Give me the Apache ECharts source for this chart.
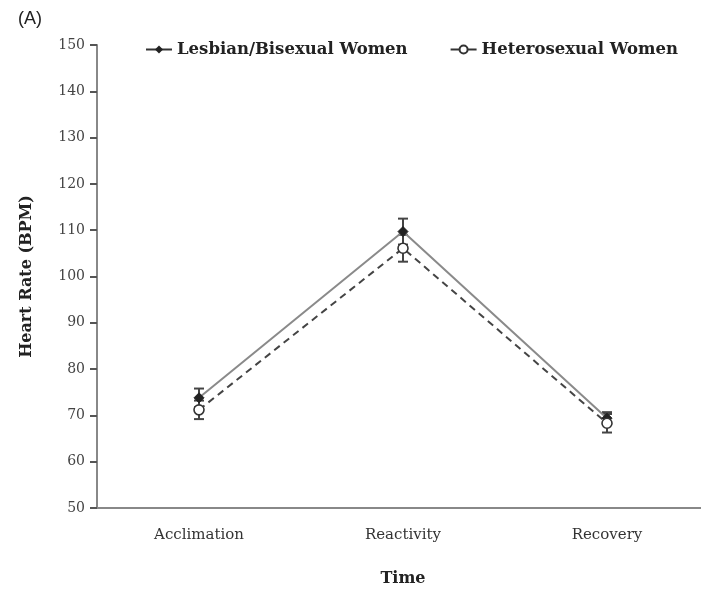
<!DOCTYPE html>
<html>
<head>
<meta charset="utf-8">
<script src="https://cdn.jsdelivr.net/npm/echarts@6/dist/echarts.min.js"></script>
<style>
html, body { margin: 0; padding: 0; background: #fff; }
#chart { width: 701px; height: 590px; }
</style>
</head>
<body>
<div id="chart"></div>
<script>
var categories = ['Acclimation', 'Reactivity', 'Recovery'];
var lesbianMean = [73.8, 109.7, 69.4];
var lesbianErr = [2.0, 2.8, 1.3];
var heteroMean = [71.2, 106.1, 68.3];
var heteroErr = [2.0, 2.9, 2.0];
var yTicks = { min: 50, max: 150, interval: 10 };

var myChart = echarts.init(document.getElementById('chart'));

function errData(mean, err){
    return mean.map(function(m, i){ return [i, m - err[i], m + err[i]]; });
}

function errRender(params, api){
    var x = api.value(0);
    var lo = api.coord([x, api.value(1)]);
    var hi = api.coord([x, api.value(2)]);
    var w = 5;
    var st = { stroke: '#444', lineWidth: 2 };
    return {
        type: 'group',
        children: [
            { type: 'line', shape: { x1: lo[0], y1: lo[1], x2: hi[0], y2: hi[1] }, style: st },
            { type: 'line', shape: { x1: lo[0] - w, y1: lo[1], x2: lo[0] + w, y2: lo[1] }, style: st },
            { type: 'line', shape: { x1: hi[0] - w, y1: hi[1], x2: hi[0] + w, y2: hi[1] }, style: st }
        ]
    };
}

var serif = '"DejaVu Serif", "Liberation Serif", serif';

var option = {
    animation: false,
    backgroundColor: '#fff',
    grid: { left: 97, top: 45, width: 612, height: 463, outerBoundsMode: 'none' },
    graphic: [{
        type: 'text', left: 18, top: 10,
        style: { text: '(A)', font: '18px "Liberation Sans", Arial, sans-serif', fill: '#222' }
    }],
    legend: {
        top: 36, left: 140, itemGap: 42, itemWidth: 26, itemHeight: 10,
        textStyle: { fontFamily: serif, fontWeight: 'bold', fontSize: 16.5, color: '#222' },
        data: [
            { name: 'Lesbian/Bisexual Women', lineStyle: { type: 'solid', color: '#333' } },
            { name: 'Heterosexual Women', lineStyle: { type: 'solid', color: '#333' } }
        ]
    },
    xAxis: {
        type: 'category', data: categories,
        name: 'Time', nameLocation: 'middle', nameGap: 63,
        nameTextStyle: { fontFamily: serif, fontWeight: 'bold', fontSize: 16, color: '#222' },
        axisLine: { lineStyle: { color: '#888', width: 2 } },
        axisTick: { alignWithLabel: true, length: 7, lineStyle: { color: '#555', width: 2 } },
        axisLabel: { fontFamily: serif, fontSize: 15, color: '#333', margin: 20 }
    },
    yAxis: {
        type: 'value', min: yTicks.min, max: yTicks.max, interval: yTicks.interval,
        name: 'Heart Rate (BPM)', nameLocation: 'middle', nameGap: 62,
        nameTextStyle: { fontFamily: serif, fontWeight: 'bold', fontSize: 16, color: '#222' },
        splitLine: { show: false },
        axisLine: { show: true, lineStyle: { color: '#888', width: 2 } },
        axisTick: { show: true, length: 7, lineStyle: { color: '#555', width: 2 } },
        axisLabel: { fontFamily: serif, fontSize: 14, color: '#444', margin: 12 }
    },
    series: [
        {
            type: 'custom', name: 'errL', renderItem: errRender,
            data: errData(lesbianMean, lesbianErr), z: 1, silent: true
        },
        {
            type: 'custom', name: 'errH', renderItem: errRender,
            data: errData(heteroMean, heteroErr), z: 1, silent: true
        },
        {
            name: 'Lesbian/Bisexual Women', type: 'line', data: lesbianMean, z: 3,
            symbol: 'diamond', symbolSize: 10,
            lineStyle: { color: '#8a8a8a', width: 2 },
            itemStyle: { color: '#222', borderColor: '#222' }
        },
        {
            name: 'Heterosexual Women', type: 'line', data: heteroMean, z: 3,
            symbol: 'circle', symbolSize: 10,
            lineStyle: { color: '#444', width: 2, type: [7, 5] },
            itemStyle: { color: '#fff', borderColor: '#333', borderWidth: 1.6 }
        }
    ]
};

myChart.setOption(option);

window.onresize = function(){
    myChart.resize();
};
</script>
</body>
</html>
